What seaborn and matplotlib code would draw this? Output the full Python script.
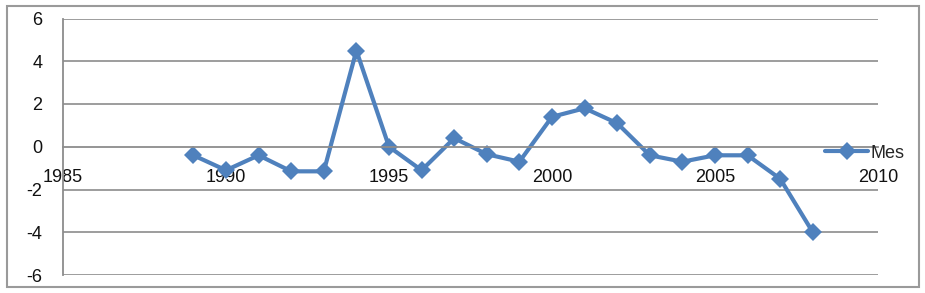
import matplotlib
matplotlib.use("Agg")
import matplotlib.pyplot as plt
import seaborn as sns
import pandas as pd
from matplotlib.patches import Rectangle

years = [1989, 1990, 1991, 1992, 1993, 1994, 1995, 1996, 1997, 1998,
         1999, 2000, 2001, 2002, 2003, 2004, 2005, 2006, 2007, 2008]
mes = [-0.4, -1.1, -0.4, -1.15, -1.15, 4.5, 0.0, -1.1, 0.4, -0.35,
       -0.7, 1.4, 1.8, 1.1, -0.4, -0.7, -0.4, -0.4, -1.5, -4.0]
x_ticks = [1985, 1990, 1995, 2000, 2005, 2010]
y_ticks = [-6, -4, -2, 0, 2, 4, 6]
series_name = "Mes"

df = pd.DataFrame({"year": years, "value": mes, "series": series_name})

sns.set_style("white")
plt.rcParams["font.family"] = ["Liberation Sans", "DejaVu Sans"]

W, H = 925, 293
fig = plt.figure(figsize=(W / 100, H / 100), dpi=100)
ax = fig.add_axes([63 / W, 1 - 275 / H, (878 - 63) / W, (275 - 18.5) / H])

blue = "#4F81BD"
grid = "#8C8C8C"

sns.lineplot(data=df, x="year", y="value", hue="series", palette=[blue],
             marker="D", markersize=9, linewidth=3, markeredgewidth=0,
             ax=ax, legend=True)

ax.set_xlim(1985, 2010)
ax.set_ylim(-6, 6)
ax.set_xticks(x_ticks)
ax.set_yticks(y_ticks)
ax.set_xticklabels([str(t) for t in x_ticks])
ax.set_yticklabels([str(t) for t in y_ticks])
ax.set_xlabel("")
ax.set_ylabel("")

for yv in y_ticks:
    if yv != 0:
        ax.axhline(yv, color=grid, linewidth=1.2, zorder=0)

for s in ["top", "right"]:
    ax.spines[s].set_visible(False)
ax.spines["bottom"].set_position(("data", 0))
ax.spines["bottom"].set_color(grid)
ax.spines["bottom"].set_linewidth(1.3)
ax.spines["left"].set_color(grid)
ax.spines["left"].set_linewidth(1.3)

ax.tick_params(axis="x", direction="out", length=5, width=1, color=grid,
               pad=11, labelsize=13, labelcolor="#111111")
ax.tick_params(axis="y", direction="out", length=6, width=1, color=grid,
               pad=9, labelsize=13, labelcolor="#111111")

leg = ax.legend(loc="center left", bbox_to_anchor=(825 / W, 1 - 153 / H),
                bbox_transform=fig.transFigure, frameon=False, fontsize=13,
                handlelength=2.4, handletextpad=0.1, borderpad=0, borderaxespad=0)

fig.patches.append(Rectangle((7 / W, 1 - 287 / H), (919 - 7) / W, (287 - 6) / H,
                             transform=fig.transFigure, fill=False,
                             edgecolor="#9a9a9a", linewidth=1.5))

fig.savefig("out.png", dpi=100)
